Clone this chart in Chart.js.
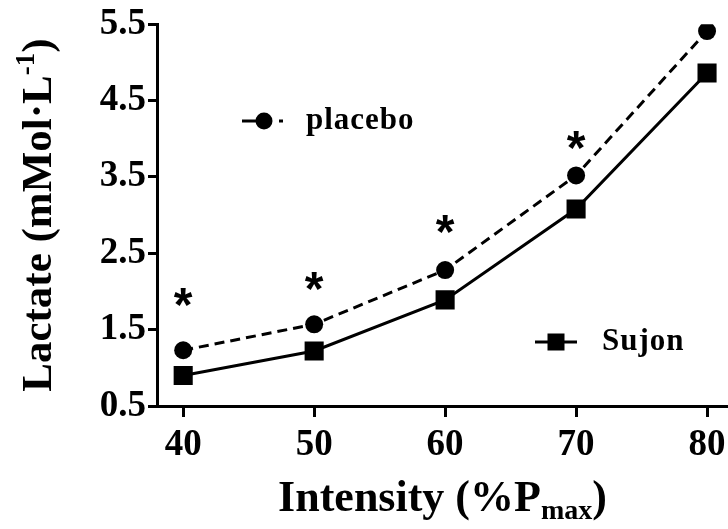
<!DOCTYPE html>
<html>
<head>
<meta charset="utf-8">
<script src="https://cdn.jsdelivr.net/npm/chart.js@4.4.1/dist/chart.umd.min.js"></script>
<style>
  html, body { margin: 0; padding: 0; background: #fff; }
  #wrap { width: 728px; height: 529px; }
</style>
</head>
<body>
<div id="wrap"><canvas id="lactateChart"></canvas></div>
<script>
// Data
const intensity = [40, 50, 60, 70, 80];
const placebo = [1.23, 1.57, 2.28, 3.52, 5.41];
const sujon = [0.90, 1.22, 1.89, 3.08, 4.86];
// asterisks (significance) above the placebo points at 40-70 %Pmax
const starX = [40, 50, 60, 70];
const starY = [1.93, 2.14, 2.88, 3.99];
const xTicks = [40, 50, 60, 70, 80];
const yTicks = [0.5, 1.5, 2.5, 3.5, 4.5, 5.5];

const SERIF = "'Liberation Serif', 'Times New Roman', serif";

// Draws text with a sub/superscript part, centred at (cx, baseline y)
function richText(ctx, parts, cx, y) {
  let total = 0;
  parts.forEach(p => {
    ctx.font = 'bold ' + p.size + 'px ' + SERIF;
    p.w = ctx.measureText(p.text).width;
    total += p.w;
  });
  let x = cx - total / 2;
  ctx.textAlign = 'left';
  ctx.textBaseline = 'alphabetic';
  parts.forEach(p => {
    ctx.font = 'bold ' + p.size + 'px ' + SERIF;
    ctx.fillText(p.text, x, y + (p.dy || 0));
    x += p.w;
  });
}

const extras = {
  id: 'extras',
  afterDraw(chart) {
    const ctx = chart.ctx;
    const xs = chart.scales.x, ys = chart.scales.y;
    const area = chart.chartArea;
    ctx.save();
    ctx.fillStyle = '#000';
    ctx.strokeStyle = '#000';

    // asterisks
    ctx.font = 'bold 48px "Liberation Sans", Arial, sans-serif';
    ctx.textAlign = 'center';
    ctx.textBaseline = 'alphabetic';
    const m = ctx.measureText('*');
    const off = (m.actualBoundingBoxAscent - m.actualBoundingBoxDescent) / 2;
    starX.forEach((v, i) => {
      ctx.fillText('*', xs.getPixelForValue(v), ys.getPixelForValue(starY[i]) + off);
    });

    // legend: placebo (dashed, circle)
    ctx.lineWidth = 3;
    ctx.beginPath();
    ctx.moveTo(242, 121); ctx.lineTo(262, 121);
    ctx.stroke();
    ctx.beginPath();
    ctx.arc(264, 121, 8.5, 0, Math.PI * 2);
    ctx.fill();
    ctx.fillRect(279, 119.5, 4, 3);
    ctx.font = 'bold 31px ' + SERIF;
    ctx.textAlign = 'left';
    ctx.textBaseline = 'middle';
    ctx.letterSpacing = '1px';
    ctx.fillText('placebo', 306, 121);

    // legend: Sujon (solid, square)
    ctx.beginPath();
    ctx.moveTo(535, 342); ctx.lineTo(577, 342);
    ctx.stroke();
    ctx.fillRect(547.5, 333.5, 17, 17);
    ctx.fillText('Sujon', 602, 342);
    ctx.letterSpacing = '0px';

    // axis titles
    const cx = (area.left + area.right) / 2;
    richText(ctx, [
      { text: 'Intensity (%P', size: 44 },
      { text: 'max', size: 28, dy: 8 },
      { text: ')', size: 44 }
    ], cx, 511);

    ctx.save();
    ctx.translate(51, (area.top + area.bottom) / 2);
    ctx.rotate(-Math.PI / 2);
    richText(ctx, [
      { text: 'Lactate (mMol\u00B7L', size: 43 },
      { text: '-1', size: 27, dy: -17 },
      { text: ')', size: 43 }
    ], 0, 0);
    ctx.restore();

    ctx.restore();
  }
};

new Chart(document.getElementById('lactateChart'), {
  type: 'line',
  data: {
    datasets: [
      {
        label: 'placebo',
        data: intensity.map((x, i) => ({ x: x, y: placebo[i] })),
        borderColor: '#000',
        backgroundColor: '#000',
        borderWidth: 3,
        borderDash: [10, 6],
        pointStyle: 'circle',
        pointRadius: 9,
        pointBorderWidth: 0,
        tension: 0
      },
      {
        label: 'Sujon',
        data: intensity.map((x, i) => ({ x: x, y: sujon[i] })),
        borderColor: '#000',
        backgroundColor: '#000',
        borderWidth: 3,
        pointStyle: 'rect',
        pointRadius: 13.5,
        pointBorderWidth: 0,
        tension: 0
      }
    ]
  },
  options: {
    responsive: true,
    maintainAspectRatio: false,
    animation: false,
    layout: { autoPadding: false, padding: { top: 22, left: 0, right: 0, bottom: 0 } },
    font: { family: SERIF },
    scales: {
      x: {
        type: 'linear',
        min: 38,
        max: 81.6,
        afterBuildTicks: s => { s.ticks = xTicks.map(v => ({ value: v })); },
        afterFit: s => { s.height = 123; s.paddingLeft = 0; s.paddingRight = 0; },
        grid: { drawOnChartArea: false, drawTicks: true, tickLength: 11, tickWidth: 3, tickColor: '#000' },
        border: { display: true, color: '#000', width: 3 },
        ticks: {
          color: '#000',
          padding: 6,
          maxRotation: 0,
          font: { family: SERIF, size: 37, weight: 'bold' }
        }
      },
      y: {
        min: 0.5,
        max: 5.5,
        afterBuildTicks: s => { s.ticks = yTicks.map(v => ({ value: v })); },
        afterFit: s => { s.width = 157; },
        grid: { drawOnChartArea: false, drawTicks: true, tickLength: 9, tickWidth: 3, tickColor: '#000' },
        border: { display: true, color: '#000', width: 3 },
        ticks: {
          color: '#000',
          padding: 2,
          callback: v => v.toFixed(1),
          font: { family: SERIF, size: 37, weight: 'bold' }
        }
      }
    },
    plugins: {
      legend: { display: false },
      tooltip: { enabled: false }
    }
  },
  plugins: [extras]
});
</script>
</body>
</html>
